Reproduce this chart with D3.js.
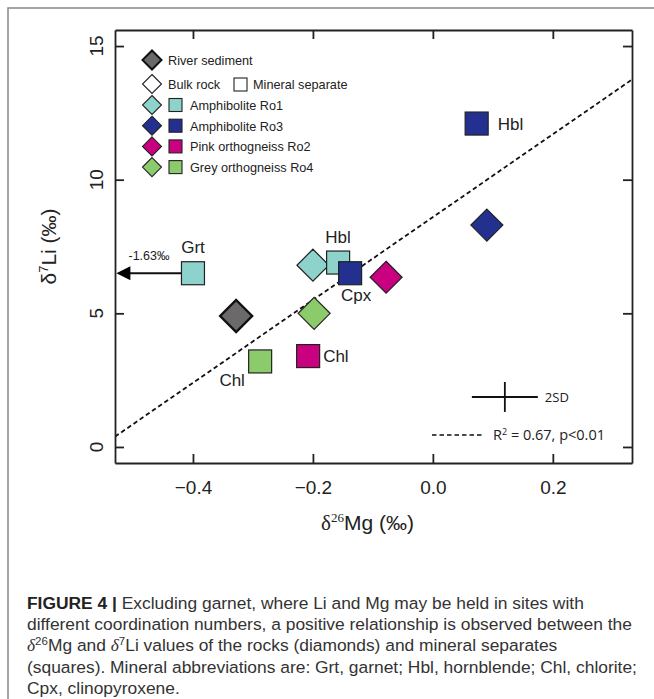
<!DOCTYPE html>
<html>
<head>
<meta charset="utf-8">
<script src="https://cdn.jsdelivr.net/npm/d3@7"></script>
<style>
  body { margin: 0; background: #fff; }
  svg { display: block; }
  text { font-family: "Liberation Sans", Arial, sans-serif; }
</style>
</head>
<body>
<script>
const W = 654, H = 699;

// groups, legend order
const groups = ["River sediment", "Amphibolite Ro1", "Amphibolite Ro3", "Pink orthogneiss Ro2", "Grey orthogneiss Ro4"];
const groupColors = ["#6b6969", "#8dd3cb", "#23308f", "#c9007f", "#8ccb6b"];

// bulk rock (diamonds): group, d26Mg, d7Li
const rockGroup = ["River sediment", "Amphibolite Ro1", "Amphibolite Ro3", "Pink orthogneiss Ro2", "Grey orthogneiss Ro4"];
const rockMg = [-0.328, -0.200, 0.090, -0.078, -0.198];
const rockLi = [4.9, 6.8, 8.3, 6.35, 5.0];

// mineral separates (squares)
const minGroup = ["Amphibolite Ro1", "Amphibolite Ro1", "Amphibolite Ro3", "Amphibolite Ro3", "Pink orthogneiss Ro2", "Grey orthogneiss Ro4"];
const minName = ["Grt", "Hbl", "Cpx", "Hbl", "Chl", "Chl"];
const minMg = [-0.400, -0.158, -0.138, 0.073, -0.208, -0.288];
const minLi = [6.5, 6.9, 6.5, 12.1, 3.4, 3.2];

// regression line and 2SD
const fitSlope = 15.5, fitIntercept = 8.6;
const fitText = "= 0.67, p<0.01";
const sdMg = 0.12, sdLi = 1.87, sdErrMg = 0.055, sdErrLi = 0.56;
const grtTrue = "-1.63‰";

const xTicks = [-0.4, -0.2, 0.0, 0.2];
const yTicks = [0, 5, 10, 15];

const svg = d3.select("body").append("svg").attr("width", W).attr("height", H);

// outer frame of the figure panel
svg.append("path").attr("d", `M8,${H} V8 H${W}`)
  .attr("fill", "none").attr("stroke", "#888").attr("stroke-width", 1.5);

const plot = { left: 115, top: 30, right: 632, bottom: 463 };
const x = d3.scaleLinear().domain([-0.53, 0.332]).range([plot.left, plot.right]);
const y = d3.scaleLinear().domain([-0.6, 15.6]).range([plot.bottom, plot.top]);
const color = d3.scaleOrdinal().domain(groups).range(groupColors);

const g = svg.append("g");

// clip for the fit line
svg.append("clipPath").attr("id", "clip").append("rect")
  .attr("x", plot.left).attr("y", plot.top)
  .attr("width", plot.right - plot.left).attr("height", plot.bottom - plot.top);

g.append("line")
  .attr("clip-path", "url(#clip)")
  .attr("x1", x(-0.53)).attr("y1", y(fitSlope * -0.53 + fitIntercept))
  .attr("x2", x(0.332)).attr("y2", y(fitSlope * 0.332 + fitIntercept))
  .attr("stroke", "#111").attr("stroke-width", 1.8).attr("stroke-dasharray", "4.5,3");

// axes (ticks inward on all four sides)
const fmt = d => d === 0 ? "0.0" : d3.format(".1f")(d).replace("-", "\u2212");
const axB = g.append("g").attr("transform", `translate(0,${plot.bottom})`)
  .call(d3.axisBottom(x).tickValues(xTicks).tickSizeInner(-9).tickSizeOuter(0).tickPadding(18).tickFormat(fmt));
const axT = g.append("g").attr("transform", `translate(0,${plot.top})`)
  .call(d3.axisTop(x).tickValues(xTicks).tickSizeInner(-9).tickSizeOuter(0).tickFormat(""));
const axL = g.append("g").attr("transform", `translate(${plot.left},0)`)
  .call(d3.axisLeft(y).tickValues(yTicks).tickSizeInner(-9).tickSizeOuter(0).tickFormat(""));
const axR = g.append("g").attr("transform", `translate(${plot.right},0)`)
  .call(d3.axisRight(y).tickValues(yTicks).tickSizeInner(-9).tickSizeOuter(0).tickFormat(""));
[axB, axT, axL, axR].forEach(a => {
  a.select(".domain").attr("stroke", "#222").attr("stroke-width", 1.8);
  a.selectAll(".tick line").attr("stroke", "#222").attr("stroke-width", 1.8);
});
axB.selectAll(".tick text").attr("font-size", 19).attr("fill", "#222")
  .style("font-family", "'Liberation Sans', Arial, sans-serif");

// y tick labels, rotated
g.selectAll(".ylab").data(yTicks).enter().append("text")
  .attr("transform", d => `translate(103,${y(d)}) rotate(-90)`)
  .attr("text-anchor", "middle").attr("font-size", 19).attr("fill", "#222")
  .text(d => d);

// axis titles
const yt = svg.append("text").attr("transform", `translate(56,${(plot.top + plot.bottom) / 2}) rotate(-90)`)
  .attr("text-anchor", "middle").attr("font-size", 21).attr("fill", "#222");
yt.append("tspan").text("δ");
yt.append("tspan").attr("font-size", 13).attr("dy", -8).text("7");
yt.append("tspan").attr("dy", 8).text("Li (‰)");

const xt = svg.append("text").attr("x", (plot.left + plot.right) / 2 - 6).attr("y", 530)
  .attr("text-anchor", "middle").attr("font-size", 21).attr("fill", "#222");
xt.append("tspan").style("font-family", "'Liberation Serif', serif").text("δ");
xt.append("tspan").style("font-family", "'Liberation Serif', serif").attr("font-size", 13).attr("dy", -8).text("26");
xt.append("tspan").attr("dy", 8).text("Mg (‰)");

// diamond helper
const diamond = (s) => `M0,${-s}L${s},0L0,${s}L${-s},0Z`;

// garnet arrow (true value off the chart)
const gi = 0;
g.append("defs").append("marker").attr("id", "ah").attr("viewBox", "0 0 10 10")
  .attr("refX", 1).attr("refY", 5).attr("markerWidth", 16).attr("markerHeight", 14)
  .attr("markerUnits", "userSpaceOnUse").attr("orient", "auto-start-reverse")
  .append("path").attr("d", "M0,0 L10,5 L0,10 Z");
g.append("line")
  .attr("x1", x(minMg[gi]) - 11).attr("y1", y(minLi[gi]))
  .attr("x2", x(-0.53) + 14).attr("y2", y(minLi[gi]))
  .attr("stroke", "#111").attr("stroke-width", 1.8).attr("marker-end", "url(#ah)");
g.append("text").attr("x", x(minMg[gi]) - 44).attr("y", y(minLi[gi]) - 13)
  .attr("text-anchor", "middle").attr("font-size", 12.5).attr("fill", "#222").text(grtTrue);

// bulk rocks
g.selectAll(".rock").data(rockGroup.map((d, i) => ({ grp: d, mg: rockMg[i], li: rockLi[i] })))
  .enter().append("path")
  .attr("transform", d => `translate(${x(d.mg)},${y(d.li)})`)
  .attr("d", diamond(16))
  .attr("fill", d => color(d.grp))
  .attr("stroke", d => d.grp === "River sediment" ? "#111" : "#222")
  .attr("stroke-width", d => d.grp === "River sediment" ? 2.4 : 1.2);

// mineral separates
const minerals = minGroup.map((d, i) => ({ grp: d, name: minName[i], mg: minMg[i], li: minLi[i] }));
const sq = 23;
g.selectAll(".min").data(minerals).enter().append("rect")
  .attr("x", d => x(d.mg) - sq / 2).attr("y", d => y(d.li) - sq / 2)
  .attr("width", sq).attr("height", sq)
  .attr("fill", d => color(d.grp)).attr("stroke", "#222").attr("stroke-width", 1.2);

// mineral labels: offsets relative to the square centre
const labelOffset = [[0, -20], [0, -20], [6, 28], [21, 6], [15, 6], [-28, 25]];
const labelAnchor = ["middle", "middle", "middle", "start", "start", "middle"];
g.selectAll(".mlab").data(minerals).enter().append("text")
  .attr("x", (d, i) => x(d.mg) + labelOffset[i][0])
  .attr("y", (d, i) => y(d.li) + labelOffset[i][1])
  .attr("text-anchor", (d, i) => labelAnchor[i])
  .attr("font-size", 17).attr("fill", "#222").text(d => d.name);

// 2SD cross
const sdc = g.append("g").attr("stroke", "#111").attr("stroke-width", 1.8);
sdc.append("line").attr("x1", x(sdMg - sdErrMg)).attr("x2", x(sdMg + sdErrMg)).attr("y1", y(sdLi)).attr("y2", y(sdLi));
sdc.append("line").attr("x1", x(sdMg)).attr("x2", x(sdMg)).attr("y1", y(sdLi - sdErrLi)).attr("y2", y(sdLi + sdErrLi));
g.append("text").attr("x", x(sdMg + sdErrMg) + 7).attr("y", y(sdLi) + 5)
  .attr("font-size", 13).style("font-family", "'Open Sans', sans-serif").attr("fill", "#222").text("2SD");

// fit legend
g.append("line").attr("x1", 432).attr("x2", 482).attr("y1", 435).attr("y2", 435)
  .attr("stroke", "#111").attr("stroke-width", 1.6).attr("stroke-dasharray", "4.5,3");
const ft = g.append("text").attr("x", 493).attr("y", 440).attr("font-size", 14.5)
  .style("font-family", "'Open Sans', sans-serif").attr("fill", "#222");
ft.append("tspan").text("R");
ft.append("tspan").attr("font-size", 9).attr("dy", -5).text("2");
ft.append("tspan").attr("dy", 5).text(" " + fitText);

// symbol legend
const lg = g.append("g").attr("font-size", 12.7).attr("fill", "#222");
const lx = 152;
lg.append("path").attr("transform", `translate(${lx},60)`).attr("d", diamond(9.5))
  .attr("fill", groupColors[0]).attr("stroke", "#111").attr("stroke-width", 2);
lg.append("text").attr("x", 168).attr("y", 64.5).text(groups[0]);
lg.append("path").attr("transform", `translate(${lx},84)`).attr("d", diamond(9.5))
  .attr("fill", "#fff").attr("stroke", "#222").attr("stroke-width", 1.1);
lg.append("text").attr("x", 168).attr("y", 88.5).text("Bulk rock");
lg.append("rect").attr("x", 234).attr("y", 78).attr("width", 13).attr("height", 13)
  .attr("fill", "#fff").attr("stroke", "#222").attr("stroke-width", 1.1);
lg.append("text").attr("x", 253).attr("y", 88.5).text("Mineral separate");
const rows = lg.selectAll(".row").data(groups.slice(1)).enter().append("g")
  .attr("transform", (d, i) => `translate(0,${105 + i * 20.7})`);
rows.append("path").attr("transform", `translate(${lx},0)`).attr("d", diamond(9.5))
  .attr("fill", d => color(d)).attr("stroke", "#222").attr("stroke-width", 1.1);
rows.append("rect").attr("x", 169).attr("y", -6.5).attr("width", 13).attr("height", 13)
  .attr("fill", d => color(d)).attr("stroke", "#222").attr("stroke-width", 1.1);
rows.append("text").attr("x", 190).attr("y", 5).text(d => d);

// caption
const capLines = [
  [["b", "FIGURE 4 | "], ["", "Excluding garnet, where Li and Mg may be held in sites with"]],
  [["", "different coordination numbers, a positive relationship is observed between the"]],
  [["i", "δ"], ["sup", "26"], ["", "Mg and "], ["i", "δ"], ["sup", "7"], ["", "Li values of the rocks (diamonds) and mineral separates"]],
  [["", "(squares). Mineral abbreviations are: Grt, garnet; Hbl, hornblende; Chl, chlorite;"]],
  [["", "Cpx, clinopyroxene."]]
];
capLines.forEach((ln, i) => {
  const t = svg.append("text").attr("x", 27).attr("y", 609 + i * 21.2)
    .attr("font-size", 17.4).attr("fill", "#333");
  let sup = false;
  ln.forEach(([k, s]) => {
    const ts = t.append("tspan").text(s);
    if (k === "b") ts.attr("font-weight", "bold").attr("fill", "#222");
    if (k === "i") ts.attr("font-style", "italic").style("font-family", "'Liberation Serif', serif");
    if (k === "sup") { ts.attr("font-size", 11.5).attr("dy", -6); sup = true; }
    else if (sup) { ts.attr("dy", 6); sup = false; }
  });
});
</script>
</body>
</html>
